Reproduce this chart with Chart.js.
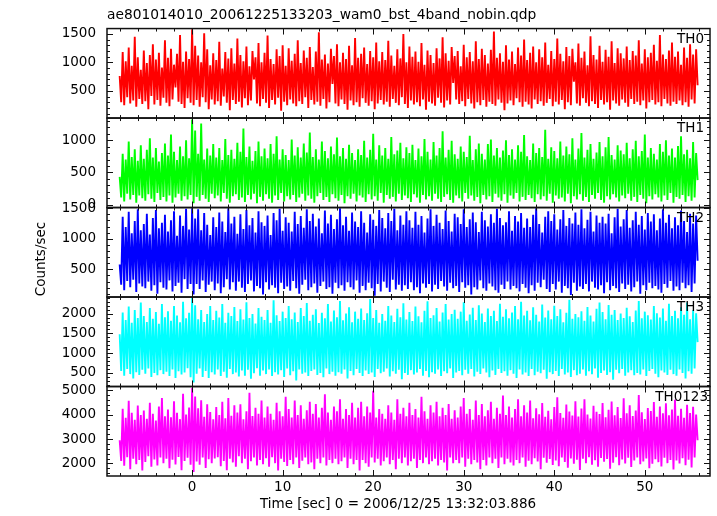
<!DOCTYPE html>
<html>
<head>
<meta charset="utf-8">
<title>ae801014010 WAM light curve</title>
<script src="https://cdn.jsdelivr.net/npm/chart.js@4.4.1/dist/chart.umd.min.js"></script>
<style>
  body { margin: 0; background: #fff; }
  canvas { display: block; }
</style>
</head>
<body>
<canvas id="lcChart" width="717" height="516"></canvas>
<script>
const fileTitle = 'ae801014010_20061225133203_wam0_bst_4band_nobin.qdp';
const xTitle = 'Time [sec] 0 = 2006/12/25 13:32:03.886';
const yTitle = 'Counts/sec';

// time of the first bin and bin width (sec)
const tStart = -8;
const binSize = 1 / 6;

const bandNames = ['TH0', 'TH1', 'TH2', 'TH3', 'TH0123'];
const bandColors = ['#ff0000', '#00ff00', '#0000ff', '#00ffff', '#ff00ff'];

// counts/sec (one value per bin)
const th0 = [
  760, 300, 1180, 250, 1020, 390, 1260, 280, 940, 330, 1450, 220, 1090, 360, 870, 270,
  1210, 320, 990, 180, 1130, 410, 1320, 260, 1050, 340, 1170, 240, 910, 380, 1390, 290,
  1080, 230, 1240, 350, 960, 560, 1150, 310, 1480, 270, 1010, 200, 1190, 370, 1060, 290,
  1580, 250, 1290, 340, 1120, 220, 1000, 390, 1510, 300, 1230, 180, 950, 350, 1160, 260,
  1040, 320, 1360, 240, 890, 400, 1180, 290, 1070, 160, 1250, 340, 980, 270, 1420, 310,
  1130, 210, 1020, 370, 1280, 250, 930, 330, 1200, 700, 1090, 280, 1340, 230, 1000, 360,
  1170, 290, 1470, 200, 1060, 340, 970, 260, 1230, 380, 1110, 150, 1300, 310, 940, 250,
  1250, 350, 1030, 280, 1150, 230, 1390, 320, 990, 270, 1210, 390, 1080, 200, 1270, 340,
  920, 260, 1190, 310, 1530, 240, 1050, 360, 1140, 190, 980, 300, 1240, 620, 1110, 280,
  1320, 230, 1000, 350, 1170, 270, 1060, 170, 1290, 330, 950, 250, 1430, 300, 1080, 220,
  1150, 370, 1260, 290, 970, 240, 1200, 320, 1090, 180, 1350, 280, 1020, 340, 1180, 260,
  1040, 310, 1380, 220, 1120, 360, 940, 290, 1230, 250, 1070, 390, 1500, 270, 1000, 200,
  1280, 330, 1100, 260, 1190, 300, 1010, 230, 1340, 350, 960, 170, 1210, 310, 1130, 280,
  990, 240, 1250, 380, 1070, 290, 1440, 210, 1160, 330, 1030, 260, 1270, 640, 1110, 350,
  1200, 270, 930, 320, 1310, 230, 1090, 360, 1180, 280, 1020, 190, 1370, 300, 1060, 250,
  1240, 340, 1130, 220, 980, 310, 1220, 270, 1540, 240, 1080, 350, 1160, 290, 1010, 160,
  1300, 280, 1050, 330, 1190, 250, 970, 370, 1260, 300, 1120, 220, 1400, 310, 1040, 260,
  1170, 190, 1280, 350, 1000, 270, 1230, 320, 1090, 240, 1350, 290, 960, 360, 1200, 230,
  1060, 310, 1420, 260, 1150, 340, 1020, 180, 1270, 300, 1110, 250, 1240, 660, 1000, 280,
  1330, 240, 1080, 370, 1190, 290, 950, 230, 1460, 320, 1130, 270, 1050, 200, 1290, 340,
  1010, 260, 1220, 300, 1100, 170, 1370, 330, 990, 280, 1250, 240, 1160, 350, 1070, 290,
  1280, 220, 1040, 360, 1200, 270, 1120, 310, 1390, 250, 980, 330, 1230, 190, 1090, 300,
  1170, 340, 1310, 260, 1030, 300, 1480, 230, 1140, 360, 1060, 280, 1210, 240, 1350, 310,
  1100, 270, 1190, 330, 960, 250, 1260, 300, 1080, 220, 1320, 350, 1140, 280, 1230, 600
];
const th1 = [
  430, 110, 790, 50, 700, 170, 980, 80, 740, 150, 860, 30, 680, 140, 920, 100,
  710, 60, 850, 160, 1030, 90, 730, 40, 880, 180, 670, 70, 800, 120, 950, 50,
  760, 140, 1090, 30, 820, 110, 690, 170, 900, 60, 750, 130, 1000, 80, 720, 150,
  1320, 20, 1150, 120, 790, 60, 1260, 150, 700, 90, 870, 40, 760, 170, 940, 100,
  730, 140, 880, 50, 690, 180, 1020, 90, 770, 30, 850, 130, 710, 160, 960, 70,
  820, 110, 1180, 40, 740, 150, 900, 80, 680, 170, 830, 20, 980, 120, 750, 60,
  870, 160, 720, 90, 940, 30, 790, 140, 1060, 70, 700, 180, 860, 50, 770, 130,
  690, 80, 1010, 150, 760, 40, 890, 110, 730, 170, 950, 60, 810, 140, 1120, 90,
  740, 30, 860, 130, 700, 180, 980, 70, 830, 120, 720, 40, 900, 160, 780, 100,
  1040, 60, 750, 150, 880, 20, 710, 130, 930, 90, 800, 170, 690, 50, 860, 140,
  770, 110, 990, 40, 730, 160, 850, 80, 1100, 130, 700, 60, 920, 180, 760, 30,
  880, 150, 710, 90, 1050, 120, 780, 50, 840, 170, 960, 70, 720, 140, 890, 100,
  800, 40, 930, 160, 690, 110, 870, 30, 750, 150, 1020, 80, 820, 130, 700, 60,
  970, 170, 760, 90, 880, 40, 1140, 120, 730, 160, 850, 70, 990, 30, 780, 140,
  710, 100, 900, 50, 820, 180, 740, 90, 1070, 140, 690, 60, 860, 120, 950, 20,
  790, 150, 700, 80, 940, 130, 1010, 40, 760, 170, 880, 110, 730, 60, 840, 160,
  1000, 30, 770, 140, 860, 90, 700, 180, 920, 50, 820, 120, 1080, 70, 750, 150,
  690, 100, 950, 40, 800, 160, 880, 80, 740, 130, 1160, 60, 710, 170, 890, 30,
  830, 140, 720, 90, 980, 110, 760, 50, 900, 170, 780, 20, 1030, 130, 700, 80,
  870, 160, 1110, 60, 730, 120, 850, 40, 940, 150, 710, 90, 810, 180, 970, 70,
  750, 30, 890, 130, 1050, 80, 770, 160, 700, 110, 920, 50, 840, 140, 780, 100,
  960, 170, 720, 60, 860, 120, 990, 40, 750, 150, 830, 90, 1090, 20, 730, 130,
  880, 80, 790, 160, 700, 110, 940, 50, 820, 140, 1000, 70, 760, 180, 870, 30,
  730, 120, 910, 90, 1060, 150, 780, 40, 850, 130, 720, 60, 970, 110, 800, 380
];
const th2 = [
  580, 250, 1360, 160, 1190, 310, 1440, 210, 1090, 330, 1290, 130, 1480, 270, 1140, 220,
  1240, 190, 1410, 300, 1070, 150, 1340, 240, 1470, 100, 1170, 290, 1260, 200, 1390, 170,
  1120, 320, 1300, 140, 1450, 230, 1050, 280, 1380, 120, 1210, 340, 1490, 180, 1150, 260,
  1500, 90, 1330, 260, 1480, 180, 1140, 320, 1420, 130, 1230, 250, 1060, 300, 1350, 160,
  1190, 270, 1430, 110, 1280, 210, 1110, 340, 1500, 170, 1250, 290, 1360, 150, 1080, 300,
  1400, 200, 1160, 130, 1470, 260, 1220, 320, 1340, 140, 1100, 230, 1450, 190, 1270, 90,
  1210, 290, 1380, 170, 1060, 240, 1420, 200, 1300, 110, 1490, 280, 1130, 180, 1350, 220,
  1260, 150, 1120, 310, 1440, 190, 1240, 100, 1370, 250, 1180, 330, 1480, 160, 1290, 210,
  1410, 270, 1200, 120, 1330, 230, 1090, 300, 1460, 180, 1250, 210, 1390, 100, 1160, 280,
  1320, 190, 1500, 240, 1220, 150, 1360, 290, 1130, 210, 1430, 170, 1280, 320, 1190, 120,
  1450, 230, 1260, 160, 1100, 280, 1400, 190, 1310, 70, 1210, 260, 1470, 140, 1340, 300,
  1170, 200, 1420, 130, 1290, 330, 1490, 170, 1140, 250, 1380, 150, 1230, 240, 1450, 180,
  1300, 290, 1180, 160, 1440, 210, 1230, 110, 1370, 270, 1100, 200, 1330, 260, 1480, 140,
  1210, 250, 1390, 180, 1260, 310, 1160, 220, 1460, 150, 1290, 280, 1120, 190, 1410, 230,
  1350, 130, 1240, 290, 1480, 200, 1190, 240, 1320, 90, 1430, 210, 1270, 170, 1110, 320,
  1440, 190, 1300, 150, 1200, 270, 1400, 220, 1260, 160, 1490, 120, 1340, 250, 1220, 180,
  1270, 300, 1450, 170, 1130, 230, 1370, 190, 1280, 140, 1420, 260, 1180, 200, 1330, 110,
  1190, 240, 1390, 150, 1500, 280, 1240, 210, 1100, 330, 1360, 180, 1450, 130, 1290, 260,
  1400, 170, 1150, 300, 1320, 120, 1470, 230, 1210, 190, 1340, 80, 1250, 280, 1430, 150,
  1230, 220, 1480, 180, 1170, 260, 1310, 140, 1440, 300, 1120, 200, 1380, 170, 1260, 240,
  1360, 110, 1250, 290, 1410, 160, 1090, 230, 1350, 190, 1490, 130, 1200, 270, 1320, 180,
  1470, 250, 1180, 140, 1300, 210, 1440, 300, 1230, 100, 1370, 240, 1150, 160, 1420, 280,
  1280, 190, 1400, 230, 1140, 170, 1330, 120, 1480, 260, 1260, 200, 1390, 310, 1170, 150,
  1350, 220, 1220, 160, 1460, 280, 1290, 190, 1110, 240, 1410, 130, 1250, 270, 1380, 640
];
const th3 = [
  1480, 550, 2030, 430, 1840, 600, 2180, 470, 1770, 360, 2090, 520, 1890, 450, 2280, 580,
  1940, 480, 1790, 610, 2140, 400, 1870, 500, 2040, 440, 1740, 570, 2240, 470, 1910, 530,
  2060, 420, 1820, 590, 2190, 370, 1950, 540, 1780, 460, 2300, 510, 1880, 620, 2020, 390,
  2400, 260, 2210, 480, 1860, 610, 2090, 400, 1790, 550, 1990, 370, 2190, 520, 1840, 460,
  2070, 590, 1900, 420, 2240, 530, 1770, 380, 2020, 600, 1940, 470, 2170, 510, 1810, 410,
  2110, 560, 1850, 430, 2290, 580, 1890, 350, 1990, 490, 1750, 620, 2140, 430, 1920, 560,
  1840, 470, 2090, 590, 1770, 420, 2340, 520, 1960, 460, 1810, 570, 2050, 400, 1890, 610,
  2190, 440, 1860, 540, 2030, 310, 1790, 590, 2140, 480, 1940, 510, 2270, 420, 1820, 550,
  1970, 590, 2110, 450, 1760, 500, 2020, 390, 1880, 610, 2240, 470, 1800, 530, 2080, 430,
  1910, 520, 2320, 480, 1830, 590, 2000, 360, 2160, 550, 1780, 440, 2050, 600, 1870, 500,
  2130, 420, 1840, 560, 2010, 470, 2370, 510, 1890, 400, 2090, 600, 1770, 490, 1990, 530,
  1820, 610, 2190, 410, 1950, 540, 1790, 480, 2120, 580, 1910, 340, 2260, 500, 1850, 450,
  2040, 570, 1810, 460, 2180, 510, 1930, 600, 1780, 430, 2070, 550, 2310, 390, 1890, 520,
  1960, 480, 2140, 590, 1800, 420, 2030, 540, 2240, 490, 1850, 610, 1990, 370, 2100, 510,
  1870, 550, 2050, 440, 2290, 580, 1820, 480, 1980, 600, 2150, 410, 1840, 530, 2210, 470,
  2000, 610, 1790, 510, 2130, 390, 1940, 560, 2070, 450, 1810, 600, 2250, 500, 1920, 540,
  2110, 430, 1880, 570, 2030, 480, 2190, 370, 1860, 590, 2300, 460, 1950, 510, 2070, 420,
  1830, 600, 2160, 440, 1970, 530, 1800, 490, 2230, 580, 1900, 350, 2080, 520, 1860, 470,
  2200, 550, 1940, 420, 2110, 600, 1780, 460, 2020, 510, 2350, 400, 1870, 570, 1990, 440,
  1910, 480, 2060, 590, 1820, 430, 2170, 540, 1950, 470, 1800, 610, 2120, 380, 2280, 500,
  2040, 560, 1860, 450, 2220, 520, 1970, 330, 2090, 580, 1840, 490, 2000, 600, 1890, 430,
  2150, 510, 1930, 570, 1790, 440, 2080, 500, 2320, 460, 1880, 590, 2050, 420, 1960, 550,
  1850, 600, 2190, 480, 2010, 390, 1900, 560, 2130, 510, 1820, 450, 2250, 580, 1940, 470,
  2070, 430, 1880, 590, 2160, 500, 1970, 360, 2280, 540, 1860, 480, 2090, 610, 2010, 1280
];
const th0123 = [
  2950, 2100, 4250, 1900, 3880, 2250, 4580, 1760, 4080, 2190, 3790, 1960, 4380, 2140, 3990, 1710,
  4180, 2060, 3840, 2290, 4490, 1860, 4040, 2160, 3760, 1910, 4340, 2240, 4690, 2010, 3940, 2190,
  4220, 1800, 3900, 2150, 4560, 1950, 4080, 2260, 3820, 1720, 4870, 2100, 4010, 2230, 4300, 1940,
  5100, 1650, 4750, 2080, 4270, 1940, 4600, 2240, 3920, 1810, 4430, 2170, 4110, 2010, 3810, 2200,
  4320, 2250, 3990, 1880, 4540, 2100, 3860, 1720, 4690, 2190, 3960, 2040, 4390, 1860, 4090, 2290,
  4430, 2010, 3810, 2190, 4140, 1760, 4910, 2090, 3950, 2240, 4290, 1910, 4040, 2140, 4590, 1960,
  3890, 2210, 4340, 1860, 4040, 2250, 3790, 2010, 4490, 1710, 4140, 2190, 3940, 2060, 4740, 1890,
  4240, 2140, 3890, 1960, 4590, 2240, 3990, 1810, 4390, 2110, 3840, 2240, 4190, 1960, 4540, 2040,
  4040, 1760, 4440, 2190, 3890, 2010, 4290, 2240, 4840, 1910, 4090, 2140, 3790, 2010, 4340, 2190,
  4140, 1960, 4640, 2090, 3840, 2240, 4240, 1810, 3990, 2190, 4490, 1960, 3890, 2140, 4290, 1710,
  4540, 2140, 3940, 2010, 4340, 1860, 4090, 2240, 4990, 2040, 3890, 2190, 4240, 1910, 4040, 2090,
  3840, 2240, 4390, 1960, 4090, 2140, 3790, 1760, 4640, 2190, 4040, 2010, 4290, 2240, 3940, 1910,
  4490, 2090, 3990, 2190, 4240, 1810, 3890, 2140, 4740, 2010, 4140, 2240, 3840, 1960, 4390, 2090,
  4090, 2190, 4540, 1910, 3940, 2140, 4290, 2040, 3990, 1710, 4440, 2240, 3840, 2010, 4190, 2140,
  3890, 2010, 4340, 2240, 4690, 1860, 4040, 2190, 4240, 1960, 3790, 2140, 4590, 2040, 3990, 1760,
  4440, 2140, 3940, 1910, 4190, 2240, 4540, 2010, 3840, 2190, 4290, 1810, 4040, 2240, 4790, 1960,
  3990, 2190, 4340, 2040, 3890, 1910, 4240, 2140, 4640, 2010, 3940, 2240, 4390, 1860, 4090, 2110,
  4590, 1960, 3860, 2210, 4270, 2080, 4020, 1760, 4480, 2230, 3920, 2030, 4170, 2180, 3810, 1930,
  4320, 2120, 4720, 1880, 4070, 2240, 3880, 2060, 4420, 1820, 4130, 2200, 3970, 1990, 4560, 2150,
  3930, 1730, 4260, 2190, 4640, 2010, 4010, 2250, 3850, 1940, 4370, 2130, 4120, 1860, 4030, 2220,
  4480, 2070, 3900, 2180, 4210, 1780, 4550, 2030, 3980, 2250, 4320, 1920, 3870, 2160, 4680, 2000,
  4060, 2230, 4390, 1850, 3950, 2120, 4180, 2240, 4810, 1960, 4100, 2080, 3830, 2200, 4280, 1800,
  4150, 1990, 4530, 2170, 3920, 2050, 4340, 1870, 4060, 2230, 4470, 2010, 3980, 2140, 4220, 1750,
  4620, 2120, 3960, 2000, 4250, 2210, 3880, 1920, 4410, 2150, 4070, 1830, 4330, 2240, 4010, 2950
];
const bandValues = [th0, th1, th2, th3, th0123];

// axis ranges and ticks
const xMin = -9.4, xMax = 57.2;
const xMajorTicks = [0, 10, 20, 30, 40, 50];
const xMinorStep = 2;
const yMins = [23, -46, 48, 156, 1480];
const yMaxs = [1594, 1344, 1510, 2420, 5164];
const yMajorTicks = [
  [500, 1000, 1500],
  [0, 500, 1000],
  [500, 1000, 1500],
  [500, 1000, 1500, 2000],
  [2000, 3000, 4000, 5000]
];
const yMinorSteps = [100, 100, 100, 100, 200];

const fontFamily = "'DejaVu Sans', sans-serif";
const labelFont = { family: fontFamily, size: 13.5 };

function binTimes(n) {
  const t = [];
  for (let i = 0; i < n; i++) t.push(tStart + i * binSize);
  return t;
}

function minorValues(min, max, step) {
  const out = [];
  for (let v = Math.ceil(min / step) * step; v <= max; v += step) out.push(v);
  return out;
}

// inward tick marks + frame for every panel, QDP style
const panelFrames = {
  id: 'panelFrames',
  afterDatasetsDraw(chart) {
    const ctx = chart.ctx;
    const xs = chart.scales.x;
    const left = xs.left, right = xs.right;
    ctx.save();
    ctx.strokeStyle = '#111';
    ctx.lineWidth = 1;
    bandNames.forEach((name, i) => {
      const ys = chart.scales['y' + i];
      const top = ys.top, bottom = ys.bottom;
      ctx.beginPath();
      minorValues(xMin, xMax, xMinorStep).forEach(v => {
        const len = xMajorTicks.includes(v) ? 6 : 3;
        const px = Math.round(xs.getPixelForValue(v)) + 0.5;
        ctx.moveTo(px, top); ctx.lineTo(px, top + len);
        ctx.moveTo(px, bottom); ctx.lineTo(px, bottom - len);
      });
      minorValues(yMins[i], yMaxs[i], yMinorSteps[i]).forEach(v => {
        const len = yMajorTicks[i].includes(v) ? 6 : 3;
        const py = Math.round(ys.getPixelForValue(v)) + 0.5;
        ctx.moveTo(left, py); ctx.lineTo(left + len, py);
        ctx.moveTo(right, py); ctx.lineTo(right - len, py);
      });
      ctx.stroke();
      ctx.lineWidth = 1.5;
      ctx.strokeRect(left, top, right - left, bottom - top);
      ctx.lineWidth = 1;

      ctx.fillStyle = '#000';
      ctx.font = '13.5px ' + fontFamily;
      ctx.textAlign = 'right';
      ctx.textBaseline = 'middle';
      ctx.fillText(name, name.length > 3 ? 708 : 704, top + 10.5);
    });

    ctx.textAlign = 'center';
    ctx.fillText(xTitle, 398, 504.5);
    ctx.translate(41, 259);
    ctx.rotate(-Math.PI / 2);
    ctx.fillText(yTitle, 0, 0);
    ctx.restore();
  }
};

const times = binTimes(th0.length);

const datasets = bandNames.map((name, i) => ({
  label: name,
  data: bandValues[i].map((v, k) => ({ x: times[k], y: v })),
  yAxisID: 'y' + i,
  borderColor: bandColors[i],
  borderWidth: 1.9,
  borderJoinStyle: 'bevel',
  pointRadius: 0,
  tension: 0,
  fill: false
}));

const scales = {
  x: {
    type: 'linear',
    min: xMin,
    max: xMax,
    afterBuildTicks: s => { s.ticks = xMajorTicks.map(v => ({ value: v })); },
    afterFit: s => { s.height = 40; },
    grid: { display: false, drawTicks: false },
    border: { display: false },
    ticks: { padding: 3, font: labelFont, color: '#000', maxRotation: 0, autoSkip: false, callback: v => String(v) }
  }
};
// stacked left axes are laid out with the last one on top, so add the bottom panel first
for (let i = bandNames.length - 1; i >= 0; i--) {
  scales['y' + i] = {
    type: 'linear',
    position: 'left',
    stack: 'bands',
    stackWeight: 1,
    min: yMins[i],
    max: yMaxs[i],
    afterBuildTicks: s => { s.ticks = yMajorTicks[i].map(v => ({ value: v })); },
    afterFit: s => { s.width = 107; },
    grid: { display: false, drawTicks: false },
    border: { display: false },
    ticks: { padding: 11, font: labelFont, color: '#000', autoSkip: false, callback: v => String(v) }
  };
}

new Chart(document.getElementById('lcChart'), {
  type: 'line',
  data: { datasets },
  options: {
    responsive: false,
    animation: false,
    events: [],
    layout: { padding: { left: 0, right: 7, top: 0, bottom: 0 } },
    scales,
    plugins: {
      legend: { display: false },
      tooltip: { enabled: false },
      title: {
        display: true,
        text: fileTitle,
        align: 'start',
        fullSize: false,
        color: '#000',
        font: { family: fontFamily, size: 13.8, weight: 'normal' },
        padding: { top: 7, bottom: 5 }
      }
    }
  },
  plugins: [panelFrames]
});
</script>
</body>
</html>
